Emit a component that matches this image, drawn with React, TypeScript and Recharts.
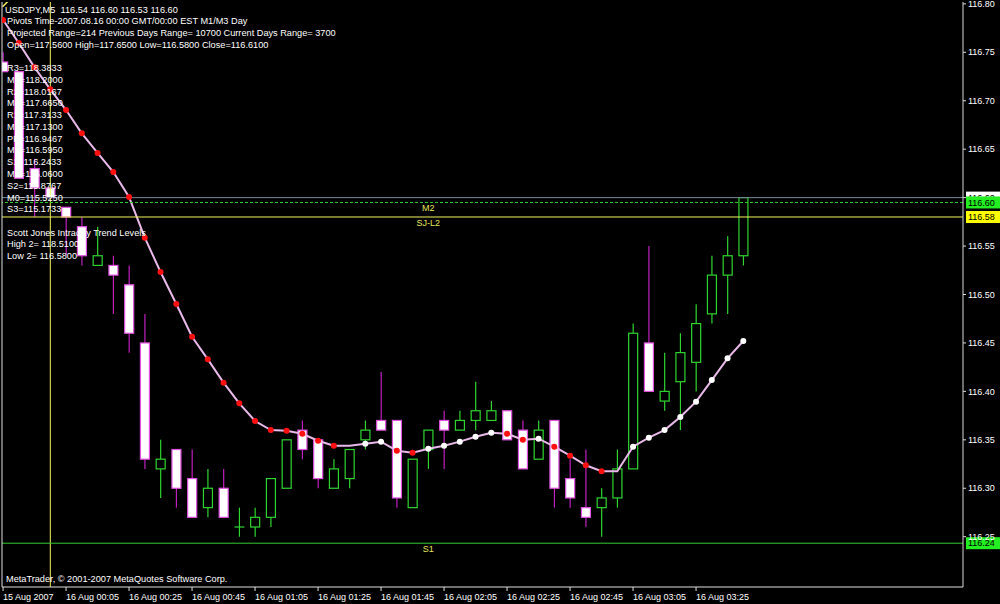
import React from 'react';
import { ComposedChart, XAxis, YAxis, Bar, Line, ReferenceLine, ReferenceDot } from 'recharts';

const FONT = '"Liberation Sans", Arial, sans-serif';
const GREEN = '#2fd52f';
const WICK_DN = '#c020c0';
const EDGE_DN = '#e050e0';
const YELLOW = '#f4f45c';

// USDJPY M5 bars, 15 Aug 23:45 .. 16 Aug 03:40
const barTimes = [
  '23:45', '23:50', '23:55', '00:00', '00:05', '00:10', '00:15', '00:20', '00:25', '00:30', '00:35', '00:40',
  '00:45', '00:50', '00:55', '01:00', '01:05', '01:10', '01:15', '01:20', '01:25', '01:30', '01:35', '01:40',
  '01:45', '01:50', '01:55', '02:00', '02:05', '02:10', '02:15', '02:20', '02:25', '02:30', '02:35', '02:40',
  '02:45', '02:50', '02:55', '03:00', '03:05', '03:10', '03:15', '03:20', '03:25', '03:30', '03:35', '03:40',
];
const opens = [
  116.74, 116.73, 116.63, 116.61, 116.59, 116.57, 116.53, 116.53, 116.51, 116.45, 116.32, 116.34,
  116.31, 116.28, 116.30, 116.26, 116.26, 116.27, 116.30, 116.36, 116.35, 116.30, 116.31, 116.35,
  116.37, 116.37, 116.28, 116.34, 116.37, 116.36, 116.37, 116.37, 116.38, 116.36, 116.33, 116.37,
  116.31, 116.28, 116.28, 116.29, 116.32, 116.45, 116.39, 116.41, 116.43, 116.48, 116.52, 116.54,
];
const highs = [
  116.75, 116.73, 116.64, 116.61, 116.59, 116.58, 116.57, 116.54, 116.53, 116.48, 116.35, 116.34,
  116.34, 116.32, 116.32, 116.28, 116.28, 116.31, 116.35, 116.37, 116.35, 116.33, 116.34, 116.37,
  116.42, 116.37, 116.33, 116.36, 116.38, 116.38, 116.41, 116.39, 116.38, 116.37, 116.37, 116.37,
  116.33, 116.34, 116.30, 116.34, 116.47, 116.55, 116.44, 116.46, 116.49, 116.54, 116.56, 116.60,
];
const lows = [
  116.73, 116.62, 116.58, 116.60, 116.54, 116.53, 116.53, 116.48, 116.44, 116.32, 116.29, 116.28,
  116.27, 116.27, 116.27, 116.25, 116.25, 116.26, 116.30, 116.33, 116.30, 116.30, 116.30, 116.34,
  116.36, 116.28, 116.28, 116.32, 116.32, 116.36, 116.36, 116.37, 116.35, 116.32, 116.33, 116.28,
  116.28, 116.26, 116.25, 116.28, 116.32, 116.40, 116.38, 116.36, 116.40, 116.47, 116.48, 116.53,
];
const closes = [
  116.73, 116.62, 116.61, 116.60, 116.58, 116.54, 116.54, 116.52, 116.46, 116.33, 116.33, 116.30,
  116.27, 116.30, 116.27, 116.26, 116.27, 116.31, 116.35, 116.34, 116.31, 116.32, 116.34, 116.36,
  116.36, 116.29, 116.33, 116.36, 116.36, 116.37, 116.38, 116.38, 116.35, 116.32, 116.36, 116.30,
  116.29, 116.27, 116.29, 116.32, 116.46, 116.40, 116.40, 116.44, 116.47, 116.52, 116.54, 116.60,
];
// smoothed trend line with up / down dots
const trendMa = [
  116.7833, 116.7596, 116.7345, 116.7118, 116.6904, 116.6664, 116.6461, 116.6264, 116.6006, 116.5586, 116.5232, 116.4902,
  116.4564, 116.4331, 116.4090, 116.3877, 116.3694, 116.3601, 116.3594, 116.3563, 116.3491, 116.3439, 116.3439, 116.3460,
  116.3481, 116.3388, 116.3367, 116.3408, 116.3439, 116.3481, 116.3532, 116.3573, 116.3563, 116.3501, 116.3512, 116.3429,
  116.3336, 116.3237, 116.3175, 116.3175, 116.3429, 116.3522, 116.3601, 116.3736, 116.3894, 116.4117, 116.4341, 116.4520,
];

const tickIdx = [0, 4, 8, 12, 16, 20, 24, 28, 32, 36, 40, 44];
const tickLabels = [
  '15 Aug 2007', '16 Aug 00:05', '16 Aug 00:25', '16 Aug 00:45', '16 Aug 01:05', '16 Aug 01:25',
  '16 Aug 01:45', '16 Aug 02:05', '16 Aug 02:25', '16 Aug 02:45', '16 Aug 03:05', '16 Aug 03:25',
];
const priceTicks = [116.25, 116.3, 116.35, 116.4, 116.45, 116.5, 116.55, 116.6, 116.65, 116.7, 116.75, 116.8];
// tick values whose label sits under a price tag
const hiddenTickText = [116.6];

const headerLines = [
  'USDJPY,M5  116.54 116.60 116.53 116.60',
  'Pivots Time-2007.08.16 00:00 GMT/00:00 EST M1/M3 Day',
  'Projected Range=214 Previous Days Range= 10700 Current Days Range= 3700',
  'Open=117.5600 High=117.6500 Low=116.5800 Close=116.6100',
];
const pivotNames = ['R3', 'M5', 'R2', 'M4', 'R1', 'M3', 'PP', 'M2', 'S1', 'M1', 'S2', 'M0', 'S3'];
const pivotValues = [118.3833, 118.2, 118.0167, 117.665, 117.3133, 117.13, 116.9467, 116.595, 116.2433, 116.06, 115.8767, 115.525, 115.1733];
const sjLines = ['Scott Jones Intraday Trend Levels', 'High 2= 118.5100', 'Low 2= 116.5800'];

const bidPrice = 116.6;
const sjLow = 116.58;
const m2Level = pivotValues[7];
const s1Level = pivotValues[8];
const dayStart = 3;
const captionBar = 27;
const cornerTrend = [{ x: -0.03, y: 116.797 }, { x: 0.45, y: 116.805 }];

const X_DOMAIN = [-0.0667, 60.949];
const Y_DOMAIN = [116.19808, 116.80192];

const rows = barTimes.map((t, i) => ({
  i,
  time: t,
  open: opens[i],
  high: highs[i],
  low: lows[i],
  close: closes[i],
  range: [lows[i], highs[i]],
  ma: trendMa[i],
}));

const Candle = (props: any) => {
  const { x, y, width, height, payload } = props;
  const { open, close, high, low } = payload;
  const k = height / (high - low);
  const yo = y + (high - open) * k;
  const yc = y + (high - close) * k;
  const top = Math.min(yo, yc);
  const bot = Math.max(yo, yc);
  const cx = x + width / 2;
  const bull = close >= open;
  const wick = bull ? GREEN : WICK_DN;
  return (
    <g>
      <line x1={cx} y1={y} x2={cx} y2={top} stroke={wick} strokeWidth={1.2} />
      <line x1={cx} y1={bot} x2={cx} y2={y + height} stroke={wick} strokeWidth={1.2} />
      {bot - top < 1 ? (
        <line x1={x} y1={top} x2={x + width} y2={top} stroke={wick} strokeWidth={1.2} />
      ) : (
        <rect x={x + 0.5} y={top} width={width - 1} height={bot - top}
          fill={bull ? '#000' : '#fff'} stroke={bull ? GREEN : EDGE_DN} strokeWidth={1.2} />
      )}
    </g>
  );
};

const MaDot = (props: any) => {
  const { cx, cy, index } = props;
  const prev = index > 0 ? trendMa[index - 1] : Infinity;
  const cur = trendMa[index];
  if (cur === prev) return <g key={index} />;
  return <circle key={index} cx={cx} cy={cy} r={3} fill={cur < prev ? '#ff1010' : '#ffffff'} />;
};

const TimeTick = (props: any) => {
  const { x, y, payload } = props;
  const label = tickLabels[tickIdx.indexOf(payload.value)];
  return (
    <text x={x} y={y} dy={9} textAnchor="start" fill="#fff" fontSize={9} fontFamily={FONT}>{label}</text>
  );
};

const PriceTick = (props: any) => {
  const { x, y, payload } = props;
  if (hiddenTickText.includes(payload.value)) return <g />;
  return (
    <text x={x} y={y} dy="0.35em" textAnchor="start" fill="#fff" fontSize={9} fontFamily={FONT}>
      {Number(payload.value).toFixed(2)}
    </text>
  );
};

const PriceTag = (props: any) => {
  const { viewBox, text, bg } = props;
  const right = viewBox.x + viewBox.width;
  const cy = viewBox.y;
  return (
    <g>
      <rect x={right + 3} y={cy - 6} width={34} height={12} fill={bg} />
      <text x={right + 5} y={cy} dy="0.36em" fill="#000" fontSize={9} fontFamily={FONT}>{text}</text>
    </g>
  );
};

const Caption = (text: string) => (p: any) => (
  <text x={p.cx} y={p.cy} dy={9} textAnchor="middle" fill="#e6e65a" fontSize={9} fontFamily={FONT}>{text}</text>
);

const textStyle: React.CSSProperties = { whiteSpace: 'pre' };

export default function App() {
  return (
    <div style={{ position: 'fixed', left: 0, top: 0, width: 1000, height: 604, background: '#000' }}>
      <ComposedChart width={1000} height={604} data={rows} margin={{ top: 2, right: 0, bottom: 0, left: 0 }}>
        <XAxis
          dataKey="i"
          type="number"
          domain={X_DOMAIN}
          allowDataOverflow
          ticks={tickIdx}
          interval={0}
          tick={<TimeTick />}
          tickSize={4}
          tickMargin={0}
          height={17}
          axisLine={{ stroke: '#e0e0e0' }}
          tickLine={{ stroke: '#e0e0e0' }}
        />
        <YAxis yAxisId="f" orientation="left" width={2} domain={Y_DOMAIN} allowDataOverflow tick={false}
          tickLine={false} axisLine={{ stroke: '#e0e0e0' }} />
        <YAxis
          yAxisId="p"
          orientation="right"
          type="number"
          domain={Y_DOMAIN}
          allowDataOverflow
          ticks={priceTicks}
          interval={0}
          width={37}
          tickSize={3}
          tickMargin={2}
          tick={<PriceTick />}
          axisLine={{ stroke: '#d8d8d8' }}
          tickLine={{ stroke: '#d8d8d8' }}
        />
        <Bar yAxisId="p" dataKey="range" barSize={10} shape={(p: any) => <Candle {...p} />} isAnimationActive={false} />
        <Line
          yAxisId="p"
          type="linear"
          dataKey="ma"
          stroke="#e9b9e9"
          strokeWidth={2}
          dot={(p: any) => <MaDot key={p.index} {...p} />}
          activeDot={false}
          isAnimationActive={false}
        />
        <ReferenceLine yAxisId="p" x={dayStart} stroke={YELLOW} strokeWidth={1} />
        <ReferenceLine yAxisId="p" segment={cornerTrend} stroke={YELLOW} strokeWidth={1.5} ifOverflow="hidden" />
        <ReferenceLine yAxisId="p" y={bidPrice} stroke="#778899" label={<PriceTag text="116.60" bg="#ffffff" />} />
        <ReferenceLine yAxisId="p" y={m2Level} stroke="#33cc33" strokeDasharray="3 2" label={<PriceTag text="116.60" bg="#22ee22" />} />
        <ReferenceLine yAxisId="p" y={sjLow} stroke={YELLOW} label={<PriceTag text="116.58" bg="#ffff00" />} />
        <ReferenceLine yAxisId="p" y={s1Level} stroke="#33cc33" label={<PriceTag text="116.24" bg="#22ee22" />} />
        <ReferenceDot yAxisId="p" x={captionBar} y={m2Level} r={0} shape={Caption('M2')} />
        <ReferenceDot yAxisId="p" x={captionBar} y={sjLow} r={0} shape={Caption('SJ-L2')} />
        <ReferenceDot yAxisId="p" x={captionBar} y={s1Level} r={0} shape={Caption('S1')} />
      </ComposedChart>
      <svg width={1000} height={604} style={{ position: 'absolute', left: 0, top: 0, pointerEvents: 'none' }}
        fontFamily={FONT} fontSize={9.2} fill="#ffffff">
        {headerLines.map((t, n) => (
          <text key={t} x={n === 0 ? 5 : 7} y={12.7 + n * 11.6} style={textStyle}>{t}</text>
        ))}
        {pivotNames.map((nm, n) => (
          <text key={nm} x={7} y={71 + n * 11.78}>{`${nm}=${pivotValues[n].toFixed(4)}`}</text>
        ))}
        {sjLines.map((t, n) => (
          <text key={t} x={7} y={235.7 + n * 11.4}>{t}</text>
        ))}
        <text x={6} y={582}>MetaTrader, © 2001-2007 MetaQuotes Software Corp.</text>
      </svg>
    </div>
  );
}
